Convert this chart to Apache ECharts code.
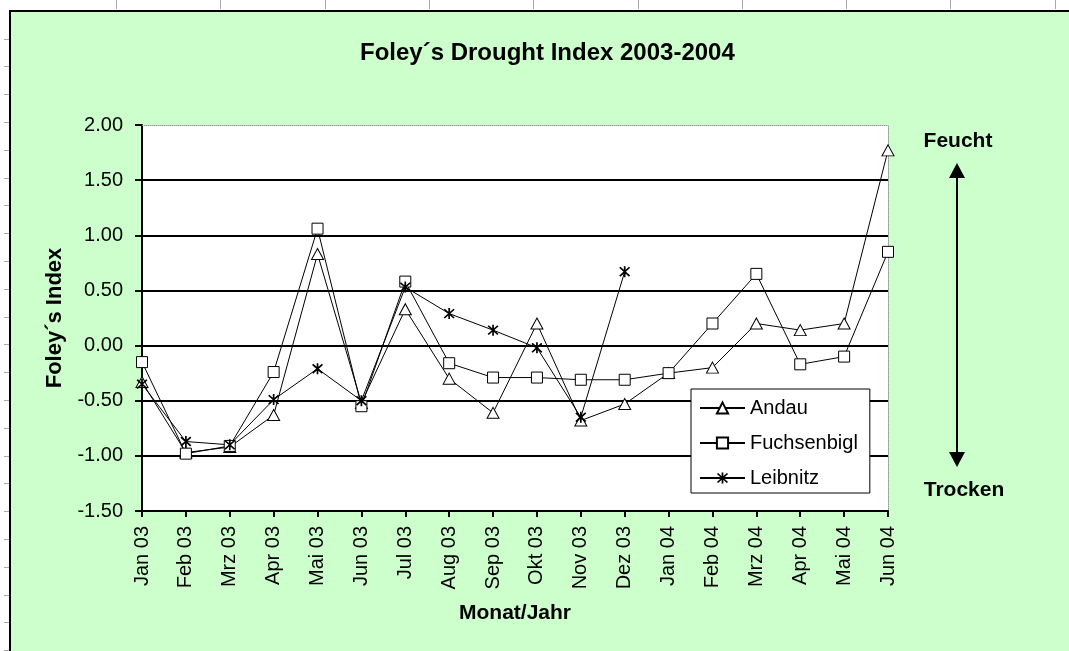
<!DOCTYPE html>
<html>
<head>
<meta charset="utf-8">
<script src="https://cdn.jsdelivr.net/npm/echarts@6/dist/echarts.min.js"></script>
<style>
html,body{margin:0;padding:0;background:#fff;}
#chart{width:1069px;height:651px;}
</style>
</head>
<body>
<div id="chart"></div>
<script>
const categories = ['Jan 03','Feb 03','Mrz 03','Apr 03','Mai 03','Jun 03','Jul 03','Aug 03','Sep 03','Okt 03','Nov 03','Dez 03','Jan 04','Feb 04','Mrz 04','Apr 04','Mai 04','Jun 04'];
const andau = [-0.33, -0.97, -0.92, -0.63, 0.83, -0.52, 0.33, -0.30, -0.61, 0.20, -0.68, -0.53, -0.25, -0.20, 0.20, 0.14, 0.20, 1.77];
const fuchsenbigl = [-0.15, -0.98, -0.91, -0.24, 1.06, -0.55, 0.58, -0.16, -0.29, -0.29, -0.31, -0.31, -0.25, 0.20, 0.65, -0.17, -0.10, 0.85];
const leibnitz = [-0.35, -0.87, -0.90, -0.49, -0.21, -0.50, 0.53, 0.29, 0.14, -0.02, -0.65, 0.67, null, null, null, null, null, null];
const seriesNames = ['Andau', 'Fuchsenbigl', 'Leibnitz'];
const yTicks = {min: -1.5, max: 2, interval: 0.5};

const FONT = 'Liberation Sans, Arial, sans-serif';
const asterisk = 'path://M-0.7,-5 L0.7,-5 L0.7,5 L-0.7,5 Z ' +
  'M-3.5,-4.5 L4.5,3.5 L3.5,4.5 L-4.5,-3.5 Z ' +
  'M4.5,-3.5 L-3.5,4.5 L-4.5,3.5 L3.5,-4.5 Z';

const chart = echarts.init(document.getElementById('chart'), null, {renderer: 'canvas'});

// decorative frame (spreadsheet edge)
const deco = [];
deco.push({type: 'rect', shape: {x: 0, y: 0, width: 1069, height: 10}, style: {fill: '#fff'}, silent: true});
deco.push({type: 'rect', shape: {x: 0, y: 0, width: 9, height: 651}, style: {fill: '#fff'}, silent: true});
for (let k = 0; k < 10; k++) {
  const x = Math.round(116 + 104.3 * k) + 0.5;
  deco.push({type: 'line', shape: {x1: x, y1: 0, x2: x, y2: 9}, style: {stroke: '#aaa', lineWidth: 1}, silent: true});
}
for (let k = -3; k < 20; k++) {
  const y = Math.round(122 + 27.8 * k) + 0.5;
  deco.push({type: 'line', shape: {x1: 4, y1: y, x2: 9, y2: y}, style: {stroke: '#aaa', lineWidth: 1}, silent: true});
}
deco.push({type: 'line', shape: {x1: 10, y1: 10, x2: 10, y2: 651}, style: {stroke: '#000', lineWidth: 2}, silent: true});
deco.push({type: 'line', shape: {x1: 9, y1: 11, x2: 1069, y2: 11}, style: {stroke: '#000', lineWidth: 2}, silent: true});
// Feucht / Trocken annotation
deco.push({type: 'text', style: {text: 'Feucht', x: 958, y: 141, align: 'center', verticalAlign: 'middle', font: 'bold 21px ' + FONT, fill: '#000'}, silent: true});
deco.push({type: 'text', style: {text: 'Trocken', x: 964, y: 490, align: 'center', verticalAlign: 'middle', font: 'bold 21px ' + FONT, fill: '#000'}, silent: true});
deco.push({type: 'line', shape: {x1: 957, y1: 172, x2: 957, y2: 458}, style: {stroke: '#000', lineWidth: 2}, silent: true});
deco.push({type: 'polygon', shape: {points: [[957, 163], [965, 178], [949, 178]]}, style: {fill: '#000'}, silent: true});
deco.push({type: 'polygon', shape: {points: [[957, 467], [965, 452], [949, 452]]}, style: {fill: '#000'}, silent: true});

function mkSeries(name, data, symbol, size) {
  return {
    name: name,
    type: 'line',
    data: data,
    xAxisIndex: 0,
    yAxisIndex: 0,
    symbol: symbol,
    symbolSize: size,
    showSymbol: true,
    connectNulls: false,
    lineStyle: {color: '#000', width: 1},
    itemStyle: symbol === asterisk ? {color: '#000', borderWidth: 0} : {color: '#fff', borderColor: '#000', borderWidth: 1},
    emphasis: {disabled: true},
    animation: false
  };
}

const option = {
  backgroundColor: '#CCFFCC',
  animation: false,
  title: {
    text: 'Foley\u00b4s Drought Index 2003-2004',
    left: 360,
    top: 41,
    padding: 0,
    textStyle: {fontFamily: FONT, fontWeight: 'bold', fontSize: 24, color: '#000'}
  },
  grid: {
    left: 142, right: 181, top: 125, bottom: 140,
    show: true, backgroundColor: '#fff', borderWidth: 0,
    containLabel: false
  },
  legend: {
    left: 691, top: 389,
    orient: 'vertical',
    backgroundColor: '#fff',
    borderColor: '#000',
    borderWidth: 1,
    borderRadius: 0,
    padding: [9, 12, 5, 8],
    itemWidth: 45,
    itemHeight: 14,
    itemGap: 15,
    data: seriesNames,
    textStyle: {fontFamily: FONT, fontSize: 20, color: '#000', lineHeight: 20}
  },
  xAxis: [{
    type: 'category',
    data: categories,
    boundaryGap: false,
    position: 'bottom',
    axisLine: {onZero: false, lineStyle: {color: '#000', width: 2}},
    axisTick: {show: true, alignWithLabel: true, length: 6, lineStyle: {color: '#000', width: 2}},
    axisLabel: {rotate: 90, margin: 15, fontFamily: FONT, fontSize: 20, color: '#000', interval: 0},
    splitLine: {show: false},
    name: 'Monat/Jahr',
    nameLocation: 'middle',
    nameGap: 92,
    nameTextStyle: {fontFamily: FONT, fontWeight: 'bold', fontSize: 21, color: '#000'}
  }, {
    type: 'category',
    data: categories,
    boundaryGap: false,
    position: 'top',
    axisLine: {onZero: false, lineStyle: {color: '#999', width: 1, type: 'dotted'}},
    axisTick: {show: false},
    axisLabel: {show: false},
    splitLine: {show: false}
  }],
  yAxis: [{
    type: 'value',
    min: yTicks.min, max: yTicks.max, interval: yTicks.interval,
    position: 'left',
    axisLine: {show: true, onZero: false, lineStyle: {color: '#000', width: 2}},
    axisTick: {show: true, length: 7, lineStyle: {color: '#000', width: 2}},
    axisLabel: {margin: 19, fontFamily: FONT, fontSize: 20, color: '#000', formatter: v => v.toFixed(2)},
    splitLine: {show: true, showMaxLine: false, lineStyle: {color: ['#000','#000','#000','#000','#000','#000','#000','rgba(0,0,0,0)'], width: 2}},
    name: 'Foley\u00b4s Index',
    nameLocation: 'middle',
    nameGap: 76,
    nameRotate: 90,
    nameTextStyle: {fontFamily: FONT, fontWeight: 'bold', fontSize: 22, color: '#000'}
  }, {
    type: 'value',
    min: yTicks.min, max: yTicks.max, interval: yTicks.interval,
    position: 'right',
    axisLine: {show: true, onZero: false, lineStyle: {color: '#999', width: 1, type: 'dotted'}},
    axisTick: {show: false},
    axisLabel: {show: false},
    splitLine: {show: false}
  }],
  series: [
    mkSeries('Andau', andau, 'triangle', [12, 11]),
    mkSeries('Fuchsenbigl', fuchsenbigl, 'rect', 11),
    mkSeries('Leibnitz', leibnitz, asterisk, 11)
  ],
  graphic: {elements: deco}
};
chart.setOption(option);
</script>
</body>
</html>
